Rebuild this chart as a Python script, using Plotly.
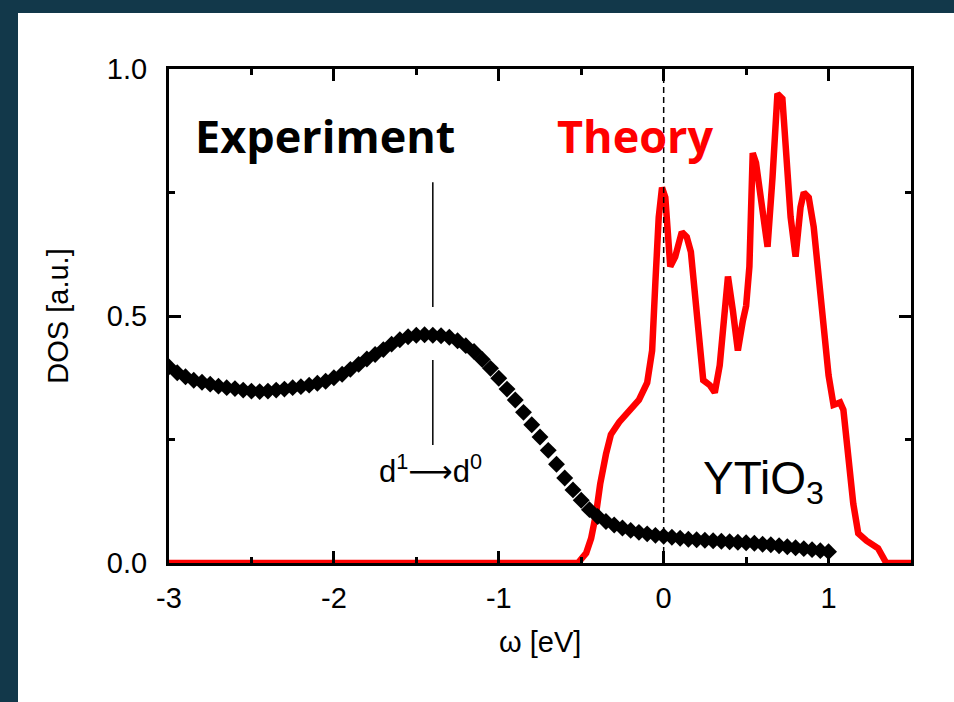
import plotly.graph_objects as go

# Photoemission spectrum (experiment), DOS in arbitrary units
exp_omega = [-3.00, -2.95, -2.90, -2.85, -2.80, -2.75, -2.70, -2.65, -2.60, -2.55,
             -2.50, -2.45, -2.40, -2.35, -2.30, -2.25, -2.20, -2.15, -2.10, -2.05,
             -2.00, -1.95, -1.90, -1.85, -1.80, -1.75, -1.70, -1.65, -1.60, -1.55,
             -1.50, -1.45, -1.40, -1.35, -1.30, -1.25, -1.20, -1.15, -1.10, -1.05,
             -1.00, -0.95, -0.90, -0.85, -0.80, -0.75, -0.70, -0.65, -0.60, -0.55,
             -0.50, -0.45, -0.40, -0.35, -0.30, -0.25, -0.20, -0.15, -0.10, -0.05,
             0.00, 0.05, 0.10, 0.15, 0.20, 0.25, 0.30, 0.35, 0.40, 0.45,
             0.50, 0.55, 0.60, 0.65, 0.70, 0.75, 0.80, 0.85, 0.90, 0.95, 1.00]
exp_dos = [0.397, 0.385, 0.377, 0.370, 0.366, 0.362, 0.358, 0.355, 0.353, 0.350,
           0.348, 0.347, 0.348, 0.350, 0.352, 0.355, 0.357, 0.360, 0.364, 0.368,
           0.375, 0.382, 0.392, 0.402, 0.413, 0.422, 0.432, 0.443, 0.452, 0.458,
           0.461, 0.462, 0.461, 0.460, 0.457, 0.450, 0.440, 0.428, 0.412, 0.394,
           0.374, 0.352, 0.330, 0.305, 0.280, 0.255, 0.228, 0.200, 0.172, 0.148,
           0.127, 0.108, 0.094, 0.084, 0.077, 0.071, 0.066, 0.062, 0.059, 0.056,
           0.054, 0.052, 0.050, 0.048, 0.047, 0.046, 0.045, 0.044, 0.043, 0.042,
           0.041, 0.040, 0.038, 0.037, 0.035, 0.033, 0.031, 0.029, 0.027, 0.025, 0.023]

# LDA+DMFT spectral function (theory)
th_omega = [-3.00, -0.52, -0.47, -0.44, -0.41, -0.385, -0.35, -0.32, -0.27, -0.20,
            -0.15, -0.10, -0.07, -0.05, -0.03, -0.01, 0.01, 0.04, 0.07, 0.11,
            0.14, 0.165, 0.19, 0.21, 0.24, 0.28, 0.31, 0.34, 0.37, 0.39,
            0.42, 0.45, 0.48, 0.50, 0.52, 0.54, 0.56, 0.60, 0.63, 0.66,
            0.69, 0.72, 0.74, 0.77, 0.80, 0.83, 0.85, 0.88, 0.91, 0.94,
            0.97, 1.00, 1.03, 1.07, 1.09, 1.12, 1.15, 1.18, 1.23, 1.30, 1.35, 1.50]
th_dos = [0.0, 0.0, 0.02, 0.05, 0.10, 0.16, 0.22, 0.26, 0.285, 0.31,
          0.33, 0.365, 0.43, 0.57, 0.70, 0.76, 0.74, 0.60, 0.62, 0.67,
          0.66, 0.63, 0.55, 0.46, 0.37, 0.36, 0.345, 0.40, 0.50, 0.58,
          0.51, 0.43, 0.49, 0.52, 0.60, 0.83, 0.81, 0.70, 0.64, 0.78,
          0.95, 0.94, 0.85, 0.70, 0.62, 0.72, 0.75, 0.74, 0.68, 0.58,
          0.48, 0.38, 0.32, 0.325, 0.31, 0.22, 0.12, 0.06, 0.045, 0.03, 0.0, 0.0]

x_ticks = [-3, -2, -1, 0, 1]
x_tick_text = ["-3", "-2", "-1", "0", "1"]
y_ticks = [0.0, 0.5, 1.0]
y_tick_text = ["0.0", "0.5", "1.0"]

# d1 -> d0 marker line (two pieces around the spectrum) and Fermi level
d_line_x = -1.4
d_line_upper = (0.518, 0.771)
d_line_lower = (0.239, 0.411)
fermi_x = 0.0

BG_DARK = "#12384a"
RED = "#ff0000"
TICK_FONT = dict(family="Liberation Sans, Arial, sans-serif", size=29, color="black")

fig = go.Figure()

fig.add_trace(go.Scatter(
    x=th_omega, y=th_dos, mode="lines",
    line=dict(color=RED, width=6.5), name="Theory",
))
fig.add_trace(go.Scatter(
    x=exp_omega, y=exp_dos, mode="markers",
    marker=dict(symbol="diamond", size=13, color="black"),
    name="Experiment",
))

# Fermi level
fig.add_shape(type="line", xref="x", yref="y", x0=fermi_x, x1=fermi_x, y0=0, y1=1,
              line=dict(color="black", width=1.5, dash="6px,4px"))
# d1 -> d0 transition position
for y0, y1 in (d_line_upper, d_line_lower):
    fig.add_shape(type="line", xref="x", yref="y", x0=d_line_x, x1=d_line_x, y0=y0, y1=y1,
                  line=dict(color="black", width=1.5))

# dark frame strips along the left and top edges
fig.add_shape(type="rect", xref="paper", yref="paper", layer="below",
              x0=-0.5, x1=-0.2035, y0=-0.5, y1=1.5,
              line=dict(width=0), fillcolor=BG_DARK)
fig.add_shape(type="rect", xref="paper", yref="paper", layer="below",
              x0=-0.5, x1=1.5, y0=1.1134, y1=1.5,
              line=dict(width=0), fillcolor=BG_DARK)

fig.add_annotation(x=-2.054, y=0.866, xref="x", yref="y", showarrow=False,
                   text="<b>Experiment</b>",
                   font=dict(family="Open Sans, sans-serif", size=45, color="black"))
fig.add_annotation(x=-0.169, y=0.866, xref="x", yref="y", showarrow=False,
                   text="<b>Theory</b>",
                   font=dict(family="Open Sans, sans-serif", size=45, color=RED))
fig.add_annotation(x=0.608, y=0.165, xref="x", yref="y", showarrow=False,
                   text="YTiO<sub>3</sub>",
                   font=dict(family="Liberation Sans, Arial, sans-serif", size=46, color="black"))
fig.add_annotation(x=-1.416, y=0.19, xref="x", yref="y", showarrow=False,
                   text="d<sup>1</sup>\u27f6d<sup>0</sup>",
                   font=dict(family="Liberation Sans, DejaVu Sans, sans-serif", size=31, color="black"))

# axis titles
fig.add_annotation(x=0.5, y=-0.16, xref="paper", yref="paper", showarrow=False,
                   text="\u03c9 [eV]", yanchor="middle",
                   font=TICK_FONT)
fig.add_annotation(x=-0.15, y=0.5, xref="paper", yref="paper", showarrow=False,
                   text="DOS [a.u.]", textangle=-90, xanchor="center",
                   font=TICK_FONT)

axis_common = dict(
    showline=True, linewidth=3, linecolor="black", mirror="ticks",
    ticks="inside", ticklen=12, tickwidth=3, tickcolor="black",
    showgrid=False, zeroline=False, tickfont=TICK_FONT,
)

fig.update_xaxes(range=[-3, 1.5], tickvals=x_ticks, ticktext=x_tick_text,
                 minor=dict(ticks="inside", ticklen=6, tickwidth=3, tickcolor="black",
                            tickvals=[-2.5, -1.5, -0.5, 0.5], showgrid=False),
                 ticklabelstandoff=7, **axis_common)
fig.update_yaxes(range=[0, 1], tickvals=y_ticks, ticktext=y_tick_text,
                 minor=dict(ticks="inside", ticklen=6, tickwidth=3, tickcolor="black",
                            tickvals=[0.25, 0.75], showgrid=False),
                 ticklabelstandoff=13, **axis_common)

fig.update_layout(
    width=954, height=702,
    margin=dict(l=169, r=43, t=69, b=139),
    paper_bgcolor="white", plot_bgcolor="white",
    showlegend=False,
)

fig.write_html("out.html")
